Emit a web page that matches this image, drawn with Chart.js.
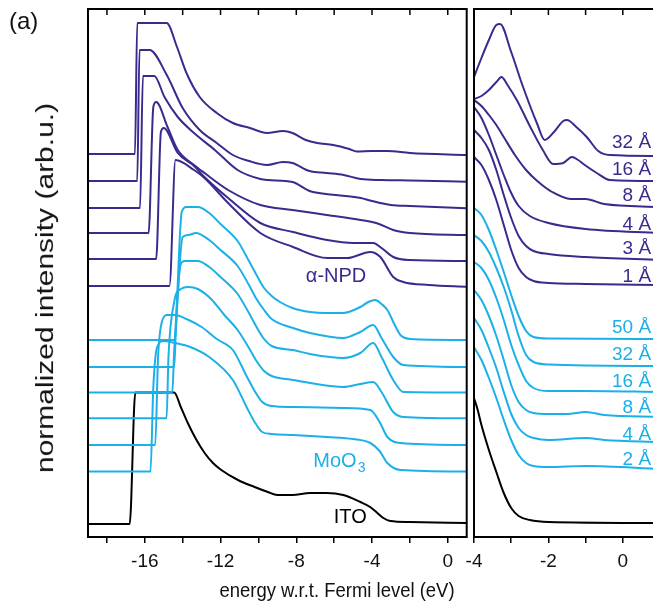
<!DOCTYPE html>
<html><head><meta charset="utf-8">
<script src="https://cdn.jsdelivr.net/npm/chart.js@4.4.1/dist/chart.umd.min.js"></script>
<style>
html,body{margin:0;padding:0;background:#fff;overflow:hidden;width:653px;height:605px;position:relative;}
#wrapL{position:absolute;left:0;top:0;width:480px;height:605px;}
#wrapR{position:absolute;left:420px;top:0;width:260px;height:605px;}
.txt{position:absolute;font-family:"Liberation Sans",Arial,sans-serif;color:#111;white-space:nowrap;}
</style></head><body>
<div id="wrapL"><canvas id="cL" width="480" height="605"></canvas></div>
<div id="wrapR"><canvas id="cR" width="260" height="605"></canvas></div>
<div class="txt" style="left:9px;top:7px;font-size:24px;">(a)</div>
<div class="txt" style="left:45px;top:288px;font-size:30px;transform:translate(-50%,-50%) rotate(-90deg) scaleY(0.82);">normalized intensity (arb.u.)</div>
<div class="txt" style="left:337px;top:590px;font-size:21px;transform:translate(-50%,-50%) scaleX(0.88);">energy w.r.t. Fermi level (eV)</div>
<script>
const PURPLE = '#3b2a8e', CYAN = '#1cb0e8', BLACK = '#000000';

// ---------- left panel: energy (eV), normalized intensity (offset, arb.u.) ----------
const itoLeft = [[-19,13],[-16.8,13],[-16.5,144.5],[-16.2,144.5],[-15.0,144.5],[-14.45,144.5],[-14.1,130],[-13.73,114],[-13.3,98],[-12.84,84],[-12.4,74],[-11.96,67],[-11.08,57],[-10.2,50],[-9.5,45],[-9.0,42],[-8.2,42],[-7.27,44],[-6.4,44],[-5.52,42],[-4.62,35],[-4.1,30],[-3.72,24],[-3.4,19],[-3.03,16],[-2.0,15],[1,14]];
const npd32Left = [[-19,383],[-16.52,383],[-16.4,514],[-14.85,514],[-14.3,490],[-13.8,464],[-13.1,440],[-12.2,424],[-11.35,414],[-10.45,409],[-9.55,404],[-8.7,406],[-8.2,404],[-7.5,397],[-6.9,394],[-6.05,392],[-5.2,388],[-4.8,385.5],[-4.0,386],[-3.2,386],[-2,384],[1,382]];
const npd16Left = [[-19,356],[-16.4,356],[-16.28,487],[-15.75,487],[-14.84,462],[-14.0,429],[-13.1,407],[-12.2,394],[-11.35,382],[-10.5,376],[-9.55,372],[-8.7,375],[-8.2,374],[-7.3,366],[-6.4,364],[-5.5,362],[-4.6,358],[-3.5,357],[-2,356.5],[1,355.3]];
const npd8Left = [[-19,329],[-16.25,329],[-16.1,461],[-15.5,461],[-14.96,440],[-14.26,420],[-13.4,404],[-12.3,387],[-11.1,367],[-9.9,358],[-9.5,357],[-8.2,355],[-7.3,346],[-5.9,342],[-4.6,339],[-4.0,336],[-3.0,332],[-2.0,331],[1,328.7]];
const npd4Left = [[-19,304],[-15.8,304],[-15.55,430],[-15.4,435],[-14.8,410],[-14.26,387],[-13.4,372],[-12.85,364],[-11.6,347],[-9.9,332],[-8.2,327],[-6.4,322],[-4.6,317],[-3.7,313.5],[-2.88,307],[-2.0,304],[1,302]];
const npd3Left = [[-19,278],[-15.4,278],[-15.15,405],[-15.0,409],[-14.26,384],[-13.4,371],[-12.85,360],[-11.6,339],[-9.9,314],[-8.17,305],[-6.37,297],[-5.0,294],[-3.94,294],[-3.5,289],[-2.88,280],[-2.0,277],[1,276]];
const npd1Left = [[-19,251],[-14.7,251],[-14.38,377],[-13.4,367],[-12.85,359],[-11.6,334],[-9.9,304],[-8.17,290],[-6.37,279],[-5.3,279],[-4.1,285],[-3.56,280],[-2.88,260],[-2.35,255],[-1.0,252],[1,250.3]];
const moo50Left = [[-19,197],[-14.4,197],[-14.3,237],[-14.05,325],[-13.8,330],[-13.2,330],[-12.6,324],[-12.0,313],[-11.1,296],[-10.5,276],[-10.1,262],[-9.7,249],[-9.3,241],[-8.86,235],[-8.2,229],[-7.27,225],[-6.4,224],[-5.52,224],[-4.62,230],[-4.2,235],[-3.83,237],[-3.5,233],[-3.19,227],[-2.8,212],[-2.5,202],[-1.97,198],[1,197]];
const moo32Left = [[-19,170],[-14.45,170],[-14.35,210],[-14.0,300],[-13.7,302],[-13.3,304],[-12.6,297],[-12.0,287],[-11.1,271],[-10.5,252],[-10.1,238],[-9.7,227],[-9.3,218],[-8.17,209],[-7.27,204],[-5.52,199],[-4.62,205],[-3.94,212],[-3.5,199],[-2.88,180],[-2.35,172],[1,170]];
const moo16Left = [[-19,144.5],[-14.55,144.5],[-14.45,185],[-14.1,273],[-13.9,276],[-13.2,276],[-12.6,270],[-12.0,260],[-11.1,243],[-10.5,224],[-10.1,210],[-9.7,198],[-9.3,191],[-8.17,187],[-7.27,183],[-5.52,179],[-4.62,184],[-3.94,194],[-3.5,180],[-2.88,157],[-2.35,145],[1,144.5]];
const moo8Left = [[-19,118.7],[-14.85,118.7],[-14.75,180],[-14.45,235],[-14.1,248],[-13.7,250],[-13.2,248],[-12.5,238],[-11.8,222],[-11.1,207],[-10.5,189],[-10.1,176],[-9.7,166],[-9.3,161],[-8.17,157],[-7.27,154],[-5.52,150],[-4.62,153],[-3.94,155],[-3.5,145],[-2.88,125],[-2.35,120],[1,118.7]];
const moo4Left = [[-19,92],[-15.45,92],[-15.3,180],[-15.1,215],[-14.8,222],[-14.4,222],[-13.8,218],[-13.0,210],[-12.2,198],[-11.35,187],[-10.6,160],[-10.2,146],[-9.8,135],[-9.3,131],[-8.17,130],[-5.52,129],[-4.09,127],[-3.6,115],[-3.19,100],[-2.5,94],[1,92]];
const moo2Left = [[-19,65.5],[-15.7,65.5],[-15.55,150],[-15.35,190],[-15.0,196],[-14.4,194],[-13.6,190],[-12.6,180],[-11.35,157],[-10.6,129],[-10.2,115],[-9.8,105],[-9.3,103],[-8.17,102],[-6.37,100],[-5.0,98],[-4.09,94],[-3.6,86],[-3.19,74],[-2.5,67],[1,65.5]];

// ---------- right panel (near Fermi level, magnified) ----------
const itoRight = [[-4,139],[-3.9,127],[-3.8,112],[-3.6,87],[-3.4,65],[-3.2,44],[-3.0,29],[-2.8,21],[-2.5,17],[-2.0,15],[1,14]];
const npd32Right = [[-4,460],[-3.8,479],[-3.6,497],[-3.4,512],[-3.3,513],[-3.0,485],[-2.7,452],[-2.3,413],[-2.1,397],[-1.85,405],[-1.6,416],[-1.5,417],[-1.25,410],[-0.97,400],[-0.66,386],[-0.35,382],[1,381]];
const npd16Right = [[-4,438],[-3.8,441],[-3.6,447],[-3.4,455],[-3.26,460],[-3.1,452],[-2.85,437],[-2.5,411],[-2.15,387],[-1.87,373],[-1.6,374],[-1.37,380],[-1.2,377],[-1.06,373],[-0.7,364],[-0.35,357],[1,356]];
const npd8Right = [[-4,437],[-3.8,431],[-3.6,422],[-3.4,412],[-3.2,400],[-2.9,382],[-2.6,367],[-2.3,356],[-1.9,345],[-1.4,338],[-1.0,338],[-0.5,333],[1,330]];
const npd4Right = [[-4,430],[-3.8,419],[-3.6,402],[-3.4,382],[-3.2,362],[-3.0,344],[-2.8,331],[-2.5,321],[-2.0,314],[-1.0,308],[1,304]];
const npd3Right = [[-4,407],[-3.8,399],[-3.6,387],[-3.4,367],[-3.2,342],[-3.0,319],[-2.8,301],[-2.6,291],[-2.4,286],[-2.0,283],[-1.0,280],[1,277]];
const npd1Right = [[-4,380],[-3.8,372],[-3.6,357],[-3.4,337],[-3.2,312],[-3.0,287],[-2.8,269],[-2.6,260],[-2.4,256],[-2.0,254],[-1.0,253],[1,252]];
const moo50Right = [[-4,329],[-3.8,322],[-3.6,307],[-3.4,287],[-3.2,265],[-3.0,242],[-2.8,221],[-2.6,206],[-2.4,200],[-2.0,198.5],[1,198]];
const moo32Right = [[-4,302],[-3.8,296],[-3.6,285],[-3.4,269],[-3.2,250],[-3.0,227],[-2.8,201],[-2.6,182],[-2.4,175],[-2.0,172.5],[1,171]];
const moo16Right = [[-4,275],[-3.8,269],[-3.6,257],[-3.4,239],[-3.2,217],[-3.0,192],[-2.8,172],[-2.6,156],[-2.4,149],[-2.0,146],[-1.0,146],[1,145]];
const moo8Right = [[-4,247],[-3.8,237],[-3.6,221],[-3.4,201],[-3.2,177],[-3.0,152],[-2.8,135],[-2.6,127],[-2.4,124],[-2.0,123],[-1.5,123],[-1.0,125],[-0.5,122],[1,120]];
const moo4Right = [[-4,219],[-3.8,207],[-3.6,189],[-3.4,169],[-3.2,145],[-3.0,123],[-2.8,109],[-2.6,102],[-2.4,99],[-2.0,97],[-1.0,99],[-0.5,97],[1,95]];
const moo2Right = [[-4,190],[-3.8,177],[-3.6,159],[-3.4,139],[-3.2,117],[-3.0,97],[-2.8,82],[-2.6,74],[-2.4,71],[-2.0,70],[-1.0,71],[1,68]];

// ---------- ticks & labels ----------
const leftTicks = [-18,-16,-14,-12,-10,-8,-6,-4,-2,0];
const leftTickLabels = [-16,-12,-8,-4,0];
const rightTicks = [-4,-3,-2,-1,0];
const rightTickLabels = [-4,-2,0];
const npdThickness = ['32 Å','16 Å','8 Å','4 Å','3 Å','1 Å'];
const mooThickness = ['50 Å','32 Å','16 Å','8 Å','4 Å','2 Å'];
const npdLabelLevel = [394,367,341,312,288,260];
const mooLabelLevel = [209,182,155,129,102,77];

Chart.defaults.font.family = '"Liberation Sans", Arial, sans-serif';
Chart.defaults.font.size = 19;
Chart.defaults.color = '#111';

// order: lower value is drawn on top (purple > cyan > ITO)
function ds(arr, color, order) {
  return { data: arr.map(p => ({x: p[0], y: p[1]})), borderColor: color, borderWidth: 2, order,
           pointRadius: 0, fill: false, cubicInterpolationMode: 'monotone' };
}

const framePlugin = {
  id: 'frame',
  afterDatasetsDraw(chart, args, opts) {
    const {ctx, chartArea: a, scales: {x, y}} = chart;
    ctx.save();
    ctx.strokeStyle = '#000'; ctx.lineWidth = 2;
    ctx.strokeRect(a.left, a.top, a.right - a.left, a.bottom - a.top);
    ctx.lineWidth = 1.5;
    (opts.topTicks || []).forEach(v => {
      const px = x.getPixelForValue(v);
      ctx.beginPath(); ctx.moveTo(px, a.top); ctx.lineTo(px, a.top + 6); ctx.stroke();
    });
    (opts.labels || []).forEach(l => {
      ctx.fillStyle = l.color;
      ctx.font = (l.size || 19) + 'px "Liberation Sans", Arial, sans-serif';
      ctx.textAlign = l.align || 'left';
      ctx.textBaseline = 'middle';
      const px = x.getPixelForValue(l.x), py = y.getPixelForValue(l.y);
      ctx.fillText(l.text, px, py);
      if (l.sub) {
        const w = ctx.measureText(l.text).width;
        ctx.font = '14px "Liberation Sans", Arial, sans-serif';
        ctx.fillText(l.sub, px + w + 1, py + 7);
      }
    });
    ctx.restore();
  }
};

function xScale(min, max, ticks, labels) {
  return {
    type: 'linear', min, max,
    afterBuildTicks: axis => { axis.ticks = ticks.map(v => ({value: v})); },
    afterFit: s => { s.height = 40; },
    ticks: { autoSkip: false, maxRotation: 0, padding: 7, color: '#111',
             callback: v => labels.includes(v) ? String(v) : '' },
    grid: { display: true, drawOnChartArea: false, drawTicks: true, tickLength: 6, color: '#000', lineWidth: 1.5 },
    border: { display: false }
  };
}
const yScale = { type: 'linear', min: 0, max: 528, display: false };

new Chart(document.getElementById('cL'), {
  type: 'line',
  data: { datasets: [
    ds(itoLeft, BLACK, 3),
    ds(moo2Left, CYAN, 2), ds(moo4Left, CYAN, 2), ds(moo8Left, CYAN, 2), ds(moo16Left, CYAN, 2), ds(moo32Left, CYAN, 2), ds(moo50Left, CYAN, 2),
    ds(npd1Left, PURPLE, 1), ds(npd3Left, PURPLE, 1), ds(npd4Left, PURPLE, 1), ds(npd8Left, PURPLE, 1), ds(npd16Left, PURPLE, 1), ds(npd32Left, PURPLE, 1)
  ]},
  options: {
    responsive: false, animation: false, devicePixelRatio: 1,
    layout: { padding: { left: 88, right: 13.3, top: 9, bottom: 28 } },
    plugins: { legend: { display: false }, tooltip: { enabled: false },
      frame: { topTicks: leftTicks, labels: [
        { text: 'α-NPD', x: -5.9, y: 261, color: PURPLE, align: 'center', size: 20 },
        { text: 'MoO', sub: '3', x: -7.1, y: 76, color: CYAN, align: 'left', size: 20 },
        { text: 'ITO', x: -5.15, y: 20, color: BLACK, align: 'center', size: 20 }
      ] } },
    scales: { x: xScale(-19, 1, leftTicks, leftTickLabels), y: yScale }
  },
  plugins: [framePlugin]
});

const rightLabels = [];
npdThickness.forEach((t, i) => rightLabels.push({ text: t, x: 0.76, y: npdLabelLevel[i], color: PURPLE, align: 'right' }));
mooThickness.forEach((t, i) => rightLabels.push({ text: t, x: 0.76, y: mooLabelLevel[i], color: CYAN, align: 'right' }));

new Chart(document.getElementById('cR'), {
  type: 'line',
  data: { datasets: [
    ds(itoRight, BLACK, 3),
    ds(moo2Right, CYAN, 2), ds(moo4Right, CYAN, 2), ds(moo8Right, CYAN, 2), ds(moo16Right, CYAN, 2), ds(moo32Right, CYAN, 2), ds(moo50Right, CYAN, 2),
    ds(npd1Right, PURPLE, 1), ds(npd3Right, PURPLE, 1), ds(npd4Right, PURPLE, 1), ds(npd8Right, PURPLE, 1), ds(npd16Right, PURPLE, 1), ds(npd32Right, PURPLE, 1)
  ]},
  options: {
    responsive: false, animation: false, devicePixelRatio: 1,
    layout: { padding: { left: 54, right: 20, top: 9, bottom: 28 } },
    plugins: { legend: { display: false }, tooltip: { enabled: false },
      frame: { topTicks: rightTicks, labels: rightLabels } },
    scales: { x: xScale(-4, 1, rightTicks, rightTickLabels), y: yScale }
  },
  plugins: [framePlugin]
});
</script>
</body></html>
